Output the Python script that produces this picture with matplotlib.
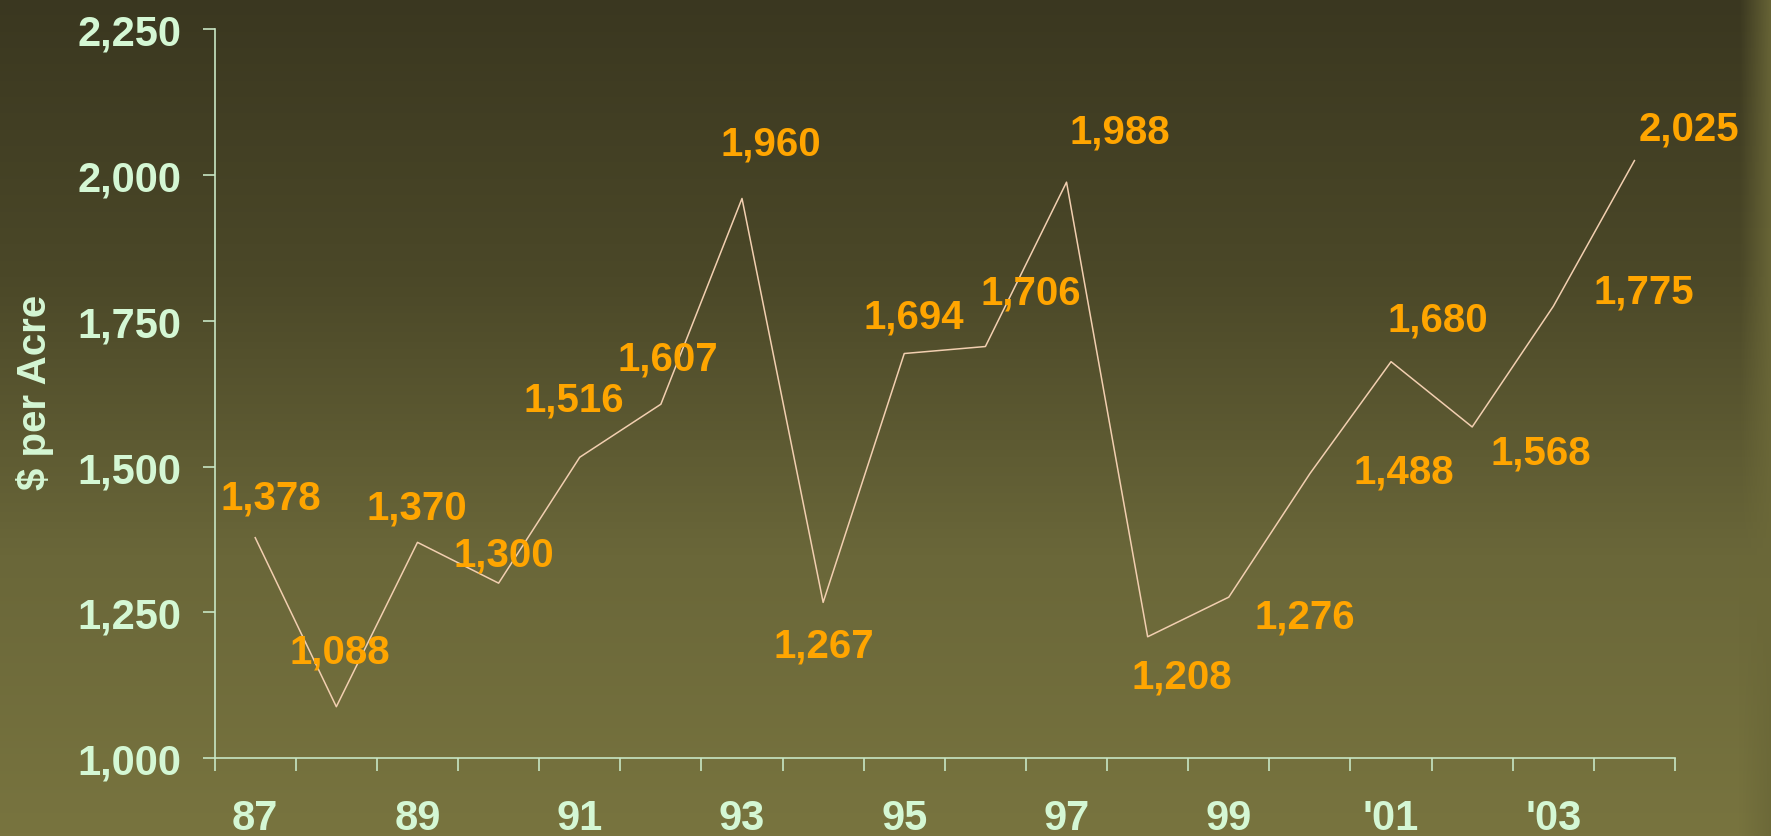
"""Farmland value per acre, 1987-2004, olive slide style."""

import numpy as np
import matplotlib.pyplot as plt
from matplotlib.colors import LinearSegmentedColormap


years = list(range(1987, 2005))
values = [1378, 1088, 1370, 1300, 1516, 1607, 1960, 1267, 1694,
          1706, 1988, 1208, 1276, 1488, 1680, 1568, 1775, 2025]
year_labels = ['87', '89', '91', '93', '95', '97', '99', "'01", "'03"]
y_ticks = [1000, 1250, 1500, 1750, 2000, 2250]

# label offsets from each point, in pixels (x right, y up)
label_offsets = [(16, 40), (3, 55), (-1, 35), (5, 29), (-6, 58), (7, 46),
                 (29, 55), (1, -43), (10, 37), (45, 54), (53, 51), (34, -40),
                 (76, -19), (94, 2), (47, 42), (69, -26), (90, 15), (54, 32)]

TICK_COLOR = '#d4f7d4'
AXIS_COLOR = '#c8e6c4'
LINE_COLOR = '#f2cfb0'
LABEL_COLOR = '#ffa500'
FONT = 'Liberation Sans'

fig = plt.figure(figsize=(17.71, 8.37), dpi=100)

# background gradient
bg = fig.add_axes([0, 0, 1, 1])
bg_cmap = LinearSegmentedColormap.from_list(
    'olive', ['#3a3720', '#4b4828', '#6a6739', '#78743f'])
grad = np.linspace(0, 1, 256).reshape(-1, 1)
bg.imshow(grad, aspect='auto', cmap=bg_cmap, extent=[0, 1, 0, 1],
          origin='upper')
# lighter band at right edge
edge = np.linspace(0, 1, 64).reshape(1, -1)
edge_cmap = LinearSegmentedColormap.from_list(
    'edge', [(0.42, 0.41, 0.22, 0.0), (0.42, 0.41, 0.22, 0.9)])
bg.imshow(edge, aspect='auto', cmap=edge_cmap, extent=[0.982, 1, 0, 1])
bg.set_xlim(0, 1)
bg.set_ylim(0, 1)
bg.axis('off')

ax = fig.add_axes([0.1212, 0.0932, 0.8246, 0.8704])
ax.patch.set_alpha(0)

x = np.arange(len(years))
ax.plot(x, values, color=LINE_COLOR, linewidth=1.1)

for xi, v, (dx, dy) in zip(x, values, label_offsets):
    ax.annotate(f'{v:,}', (xi, v), xytext=(dx, dy),
                textcoords='offset pixels', ha='center', va='center',
                color=LABEL_COLOR, fontsize=29, fontweight='bold',
                family=FONT)

ax.set_xlim(-0.5, len(years) - 0.5)
ax.set_ylim(1000, 2250)

for side in ['top', 'right']:
    ax.spines[side].set_visible(False)
for side in ['left', 'bottom']:
    ax.spines[side].set_color(AXIS_COLOR)
    ax.spines[side].set_linewidth(1.2)
ax.spines['left'].set_bounds(1000, 2250)

ax.set_yticks(y_ticks)
ax.set_yticklabels([f'{t:,}' for t in y_ticks])
ax.tick_params(axis='y', direction='out', length=9, width=1.2,
               color=AXIS_COLOR, pad=15, labelcolor=TICK_COLOR,
               labelsize=30)

ax.set_xticks(np.arange(len(years) + 1) - 0.5)
ax.set_xticklabels([])
ax.set_xticks(x[::2], minor=True)
ax.set_xticklabels(year_labels, minor=True)
ax.tick_params(axis='x', which='major', direction='out', length=9,
               width=1.2, color=AXIS_COLOR)
ax.tick_params(axis='x', which='minor', length=0, pad=29,
               labelcolor=TICK_COLOR, labelsize=30)

for lbl in ax.get_xticklabels(minor=True) + ax.get_yticklabels():
    lbl.set_fontweight('bold')
    lbl.set_family(FONT)

fig.text(0.020, 0.531, '$ per Acre', rotation=90, ha='center',
         va='center', color=TICK_COLOR, fontsize=29, fontweight='bold',
         family=FONT)

fig.savefig('out.png', dpi=100)
